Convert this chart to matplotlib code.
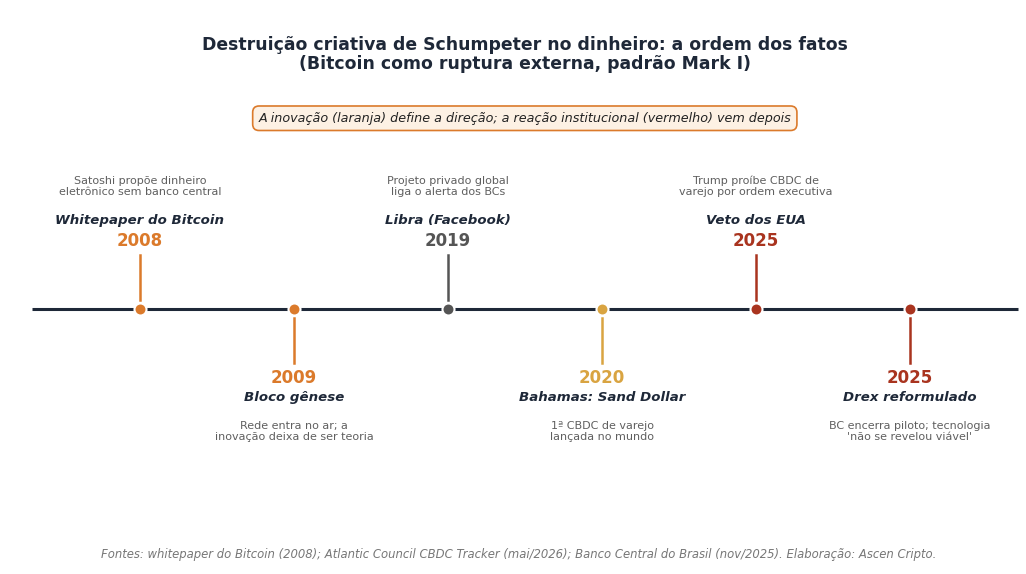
import matplotlib
matplotlib.use("Agg")
import matplotlib.pyplot as plt

# dados dos eventos
anos = ["2008", "2009", "2019", "2020", "2025", "2025"]
nomes = ["Whitepaper do Bitcoin", "Bloco gênese", "Libra (Facebook)",
         "Bahamas: Sand Dollar", "Veto dos EUA", "Drex reformulado"]
descricoes = ["Satoshi propõe dinheiro\neletrônico sem banco central",
              "Rede entra no ar; a\ninovação deixa de ser teoria",
              "Projeto privado global\nliga o alerta dos BCs",
              "1ª CBDC de varejo\nlançada no mundo",
              "Trump proíbe CBDC de\nvarejo por ordem executiva",
              "BC encerra piloto; tecnologia\n'não se revelou viável'"]
lados = [1, -1, 1, -1, 1, -1]
cores = ["#DB7A2B", "#DB7A2B", "#555555", "#D9A441", "#A9341F", "#A9341F"]

ESCURO = "#1E2838"
CINZA = "#5F5F5F"

fig = plt.figure(figsize=(10.26, 5.74), dpi=100)
ax = fig.add_axes([0, 0, 1, 1])
ax.set_xlim(-0.909, 5.753)
ax.set_ylim(-2.65, 3.09)
ax.axis("off")

ax.plot([-0.7, 5.7], [0, 0], color=ESCURO, lw=2.2, zorder=1, solid_capstyle="butt")

for i, (ano, nome, desc, lado, cor) in enumerate(zip(anos, nomes, descricoes, lados, cores)):
    ax.plot([i, i], [0.09 * lado, 0.54 * lado], color=cor, lw=1.8, zorder=2)
    ax.scatter([i], [0], s=75, color=cor, edgecolor="white", linewidth=1.5, zorder=3)
    ax.text(i, 0.685 * lado, ano, ha="center", va="center", fontsize=12,
            fontweight="bold", color=cor)
    ax.text(i, 0.885 * lado, nome, ha="center", va="center", fontsize=9.65,
            fontweight="bold", fontstyle="italic", color=ESCURO)
    ax.text(i, 1.225 * lado, desc, ha="center", va="center", fontsize=8.0,
            color=CINZA, linespacing=1.15)

fig.text(0.5115, 0.905, "Destruição criativa de Schumpeter no dinheiro: a ordem dos fatos\n"
         "(Bitcoin como ruptura externa, padrão Mark I)", ha="center", va="center",
         fontsize=12.45, fontweight="bold", color=ESCURO, linespacing=1.1)

fig.text(0.5115, 0.794, "A inovação (laranja) define a direção; a reação institucional (vermelho) vem depois",
         ha="center", va="center", fontsize=9.2, fontstyle="italic", color="#222222",
         bbox=dict(boxstyle="round,pad=0.45,rounding_size=0.5", facecolor="#FDF1E4",
                   edgecolor="#DB7A2B", linewidth=1.2))

fig.text(0.506, 0.034, "Fontes: whitepaper do Bitcoin (2008); Atlantic Council CBDC Tracker (mai/2026); "
         "Banco Central do Brasil (nov/2025). Elaboração: Ascen Cripto.",
         ha="center", va="center", fontsize=8.42, fontstyle="italic", color="#777777")

fig.savefig("out.png", dpi=100, facecolor="white")
